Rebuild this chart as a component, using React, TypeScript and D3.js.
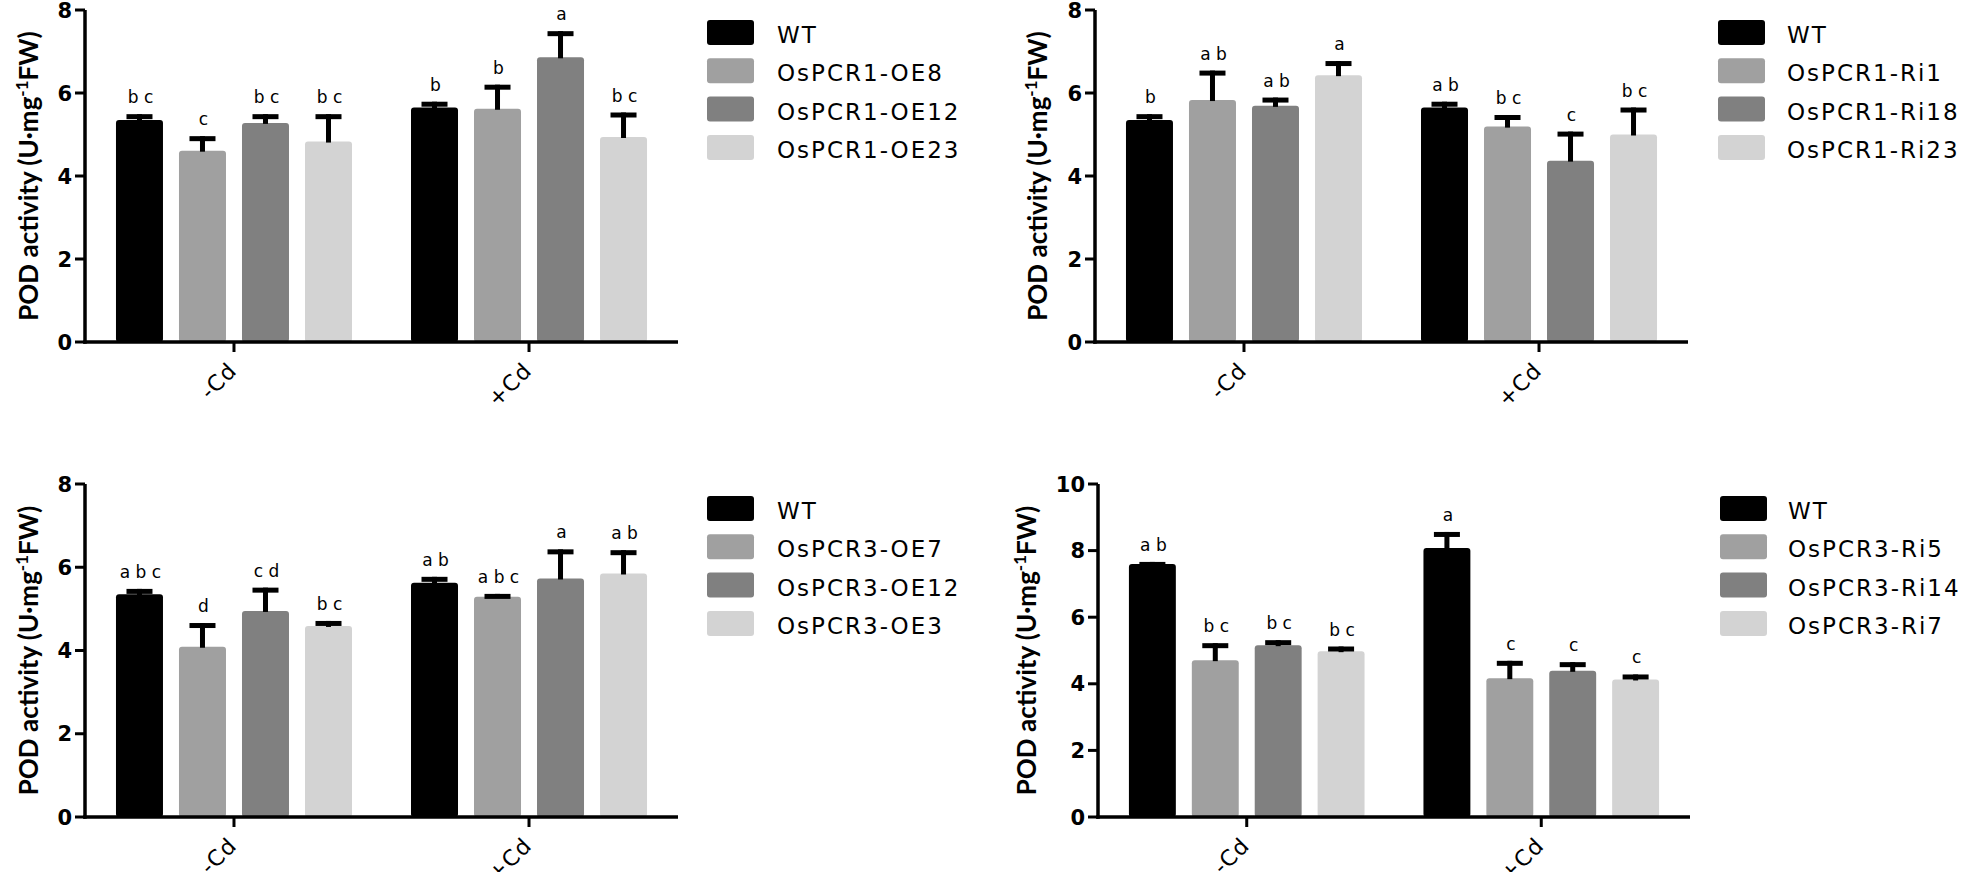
import React from "react";
import * as d3 from "d3";

// ---------- data ----------
const CONDITIONS = ["-Cd", "+Cd"];
const Y_TICKS_8 = [0, 2, 4, 6, 8];
const Y_TICKS_10 = [0, 2, 4, 6, 8, 10];
const COLORS = ["#000000", "#a0a0a0", "#808080", "#d3d3d3"];

// Panel A: OsPCR1 over-expression
const A_SERIES = ["WT", "OsPCR1-OE8", "OsPCR1-OE12", "OsPCR1-OE23"];
const A_MINUS = [5.35, 4.61, 5.28, 4.83];
const A_MINUS_SE = [0.14, 0.35, 0.21, 0.66];
const A_PLUS = [5.65, 5.62, 6.86, 4.94];
const A_PLUS_SE = [0.14, 0.58, 0.63, 0.59];
const A_MINUS_LET = ["bc", "c", "bc", "bc"];
const A_PLUS_LET = ["b", "b", "a", "bc"];

// Panel B: OsPCR1 RNAi
const B_SERIES = ["WT", "OsPCR1-Ri1", "OsPCR1-Ri18", "OsPCR1-Ri23"];
const B_MINUS = [5.35, 5.83, 5.69, 6.43];
const B_MINUS_SE = [0.14, 0.71, 0.2, 0.34];
const B_PLUS = [5.65, 5.19, 4.37, 5.0];
const B_PLUS_SE = [0.14, 0.28, 0.7, 0.65];
const B_MINUS_LET = ["b", "ab", "ab", "a"];
const B_PLUS_LET = ["ab", "bc", "c", "bc"];

// Panel C: OsPCR3 over-expression
const C_SERIES = ["WT", "OsPCR3-OE7", "OsPCR3-OE12", "OsPCR3-OE3"];
const C_MINUS = [5.35, 4.09, 4.95, 4.59];
const C_MINUS_SE = [0.13, 0.57, 0.56, 0.12];
const C_PLUS = [5.63, 5.29, 5.73, 5.85];
const C_PLUS_SE = [0.14, 0.07, 0.7, 0.56];
const C_MINUS_LET = ["abc", "d", "cd", "bc"];
const C_PLUS_LET = ["ab", "abc", "a", "ab"];

// Panel D: OsPCR3 RNAi
const D_SERIES = ["WT", "OsPCR3-Ri5", "OsPCR3-Ri14", "OsPCR3-Ri7"];
const D_MINUS = [7.6, 4.71, 5.16, 4.98];
const D_MINUS_SE = [0.06, 0.51, 0.15, 0.14];
const D_PLUS = [8.08, 4.17, 4.39, 4.13];
const D_PLUS_SE = [0.48, 0.52, 0.26, 0.15];
const D_MINUS_LET = ["ab", "bc", "bc", "bc"];
const D_PLUS_LET = ["a", "c", "c", "c"];

const FONT = "'DejaVu Sans', sans-serif";
const TITLE_FONT = "Lato, 'DejaVu Sans', sans-serif";

type Layout = {
  axisX: number;
  xEnd: number;
  y0: number;
  yTop: number;
  titleX: number;
  legX: number;
  legTextX: number;
  legTop: number;
};

function Panel(props: {
  L: Layout;
  series: string[];
  values: number[][];
  ses: number[][];
  letters: string[][];
  yMax: number;
  yTicks: number[];
}) {
  const { L, series, values, ses, letters, yMax, yTicks } = props;
  const x0 = d3
    .scaleBand<string>()
    .domain(CONDITIONS)
    .range([L.axisX, L.xEnd])
    .paddingInner(0.2)
    .paddingOuter(0.105);
  const x1 = d3
    .scaleBand<string>()
    .domain(series)
    .range([0, x0.bandwidth()])
    .paddingInner(0.254)
    .paddingOuter(0);
  const y = d3.scaleLinear().domain([0, yMax]).range([L.y0, L.yTop]);
  const bw = x1.bandwidth();
  const capW = 26;
  const capH = 5;
  const stemW = 5;

  return (
    <g>
      {CONDITIONS.map((c, ci) => (
        <g key={c}>
          {series.map((s, si) => {
            const v = values[ci][si];
            const e = v + ses[ci][si];
            const bx = (x0(c) as number) + (x1(s) as number);
            const cx = bx + bw / 2;
            return (
              <g key={s}>
                <rect
                  x={bx}
                  y={y(v)}
                  width={bw}
                  height={L.y0 - y(v)}
                  rx={3}
                  fill={COLORS[si]}
                />
                <rect x={cx - stemW / 2} y={y(e)} width={stemW} height={y(v) - y(e) + 1} fill="#000" />
                <rect x={cx - capW / 2} y={y(e)} width={capW} height={capH} fill="#000" />
                <text
                  x={cx + 1}
                  y={y(e) - 11}
                  textAnchor="middle"
                  fontFamily={FONT}
                  fontSize={17}
                  fill="#000"
                >
                  {letters[ci][si].split("").join(" ")}
                </text>
              </g>
            );
          })}
        </g>
      ))}
      {/* axes */}
      <line x1={L.axisX} x2={L.axisX} y1={L.y0 + 1.75} y2={L.yTop} stroke="#000" strokeWidth={3.5} />
      <line x1={L.axisX - 1.75} x2={L.xEnd} y1={L.y0} y2={L.y0} stroke="#000" strokeWidth={3.5} />
      {yTicks.map((t) => (
        <g key={t}>
          <line x1={L.axisX - 10} x2={L.axisX} y1={y(t)} y2={y(t)} stroke="#000" strokeWidth={3} />
          <text
            x={L.axisX - 13}
            y={y(t)}
            dy="0.36em"
            textAnchor="end"
            fontFamily={FONT}
            fontWeight="bold"
            fontSize={21}
            fill="#000"
          >
            {t}
          </text>
        </g>
      ))}
      {CONDITIONS.map((c) => {
        const tx = (x0(c) as number) + x0.bandwidth() / 2;
        return (
          <g key={c}>
            <line x1={tx} x2={tx} y1={L.y0} y2={L.y0 + 10} stroke="#000" strokeWidth={3} />
            <text
              transform={`translate(${tx + 4},${L.y0 + 30}) rotate(-45)`}
              textAnchor="end"
              fontFamily={FONT}
              fontSize={22}
              letterSpacing={1}
              fill="#000"
            >
              {c}
            </text>
          </g>
        );
      })}
      {/* y title */}
      <text
        transform={`translate(${L.titleX},${(L.y0 + L.yTop) / 2}) rotate(-90)`}
        textAnchor="middle"
        fontFamily={TITLE_FONT}
        fontWeight="bold"
        fontSize={26}
        fill="#000"
      >
        POD activity (U·mg
        <tspan dy={-10} fontSize={17}>
          -1
        </tspan>
        <tspan dy={10}>FW)</tspan>
      </text>
      {/* legend */}
      {series.map((s, si) => (
        <g key={s}>
          <rect
            x={L.legX}
            y={L.legTop + si * 38.3}
            width={47}
            height={25}
            rx={3}
            fill={COLORS[si]}
          />
          <text
            x={L.legTextX}
            y={L.legTop + si * 38.3 + 23}
            fontFamily={FONT}
            fontSize={23}
            letterSpacing={2}
            fill="#000"
          >
            {s}
          </text>
        </g>
      ))}
    </g>
  );
}

export default function App() {
  const LA: Layout = { axisX: 85, xEnd: 678, y0: 342, yTop: 10, titleX: 38, legX: 707, legTextX: 777, legTop: 20 };
  const LB: Layout = { axisX: 1095, xEnd: 1688, y0: 342, yTop: 10, titleX: 1047, legX: 1718, legTextX: 1787, legTop: 20 };
  const LC: Layout = { axisX: 85, xEnd: 678, y0: 817, yTop: 484, titleX: 38, legX: 707, legTextX: 777, legTop: 496 };
  const LD: Layout = { axisX: 1098, xEnd: 1690, y0: 817, yTop: 484, titleX: 1036, legX: 1720, legTextX: 1788, legTop: 496 };
  return (
    <svg
      width={1963}
      height={872}
      style={{ position: "fixed", left: 0, top: 0, background: "#fff" }}
    >
      <rect width={1963} height={872} fill="#fff" />
      <Panel L={LA} series={A_SERIES} values={[A_MINUS, A_PLUS]} ses={[A_MINUS_SE, A_PLUS_SE]} letters={[A_MINUS_LET, A_PLUS_LET]} yMax={8} yTicks={Y_TICKS_8} />
      <Panel L={LB} series={B_SERIES} values={[B_MINUS, B_PLUS]} ses={[B_MINUS_SE, B_PLUS_SE]} letters={[B_MINUS_LET, B_PLUS_LET]} yMax={8} yTicks={Y_TICKS_8} />
      <Panel L={LC} series={C_SERIES} values={[C_MINUS, C_PLUS]} ses={[C_MINUS_SE, C_PLUS_SE]} letters={[C_MINUS_LET, C_PLUS_LET]} yMax={8} yTicks={Y_TICKS_8} />
      <Panel L={LD} series={D_SERIES} values={[D_MINUS, D_PLUS]} ses={[D_MINUS_SE, D_PLUS_SE]} letters={[D_MINUS_LET, D_PLUS_LET]} yMax={10} yTicks={Y_TICKS_10} />
    </svg>
  );
}
